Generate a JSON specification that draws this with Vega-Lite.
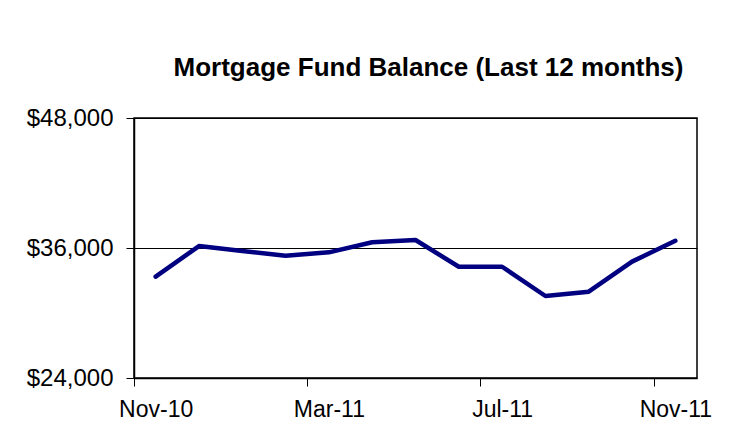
{
  "$schema": "https://vega.github.io/schema/vega-lite/v6.json",
  "width": 563,
  "height": 260,
  "autosize": "none",
  "padding": {"left": 134, "top": 118, "right": 59, "bottom": 67},
  "background": "white",
  "title": {
    "text": "Mortgage Fund Balance (Last 12 months)",
    "font": "Liberation Sans",
    "fontSize": 26,
    "fontWeight": "bold",
    "color": "black",
    "frame": "group",
    "anchor": "middle",
    "baseline": "alphabetic",
    "offset": 4,
    "dx": 13
  },
  "data": {
    "values": [
      {"month": "Nov-10", "balance": 33350},
      {"month": "Dec-10", "balance": 36180},
      {"month": "Jan-11", "balance": 35730},
      {"month": "Feb-11", "balance": 35290},
      {"month": "Mar-11", "balance": 35600},
      {"month": "Apr-11", "balance": 36530},
      {"month": "May-11", "balance": 36740},
      {"month": "Jun-11", "balance": 34270},
      {"month": "Jul-11", "balance": 34270},
      {"month": "Aug-11", "balance": 31570},
      {"month": "Sep-11", "balance": 31970},
      {"month": "Oct-11", "balance": 34740},
      {"month": "Nov-11", "balance": 36670}
    ]
  },
  "mark": {"type": "line", "color": "#000080", "strokeWidth": 4.5, "strokeCap": "round", "strokeJoin": "round"},
  "encoding": {
    "x": {
      "field": "month",
      "type": "ordinal",
      "sort": null,
      "scale": {"type": "point", "padding": 0.5},
      "axis": {
        "title": null,
        "values": ["Nov-10", "Mar-11", "Jul-11", "Nov-11"],
        "labelAngle": 0,
        "labelFontSize": 23,
        "tickOffset": -21.65,
        "labelOffset": 21.65,
        "tickSize": 8,
        "labelPadding": 12,
        "grid": false
      }
    },
    "y": {
      "field": "balance",
      "type": "quantitative",
      "scale": {"domain": [24000, 48000], "nice": false, "zero": false},
      "axis": {
        "title": null,
        "values": [24000, 36000, 48000],
        "format": "$,.0f",
        "labelFontSize": 24,
        "tickSize": 8,
        "labelPadding": 13,
        "grid": true,
        "gridColor": "black",
        "gridWidth": 1,
        "gridOpacity": 1
      }
    }
  },
  "config": {
    "view": {"stroke": "black", "strokeWidth": 1.5, "fill": "white"},
    "axis": {
      "labelFont": "Liberation Sans",
      "labelColor": "black",
      "domainColor": "black",
      "domainWidth": 1.5,
      "tickColor": "black",
      "tickWidth": 1
    }
  }
}
